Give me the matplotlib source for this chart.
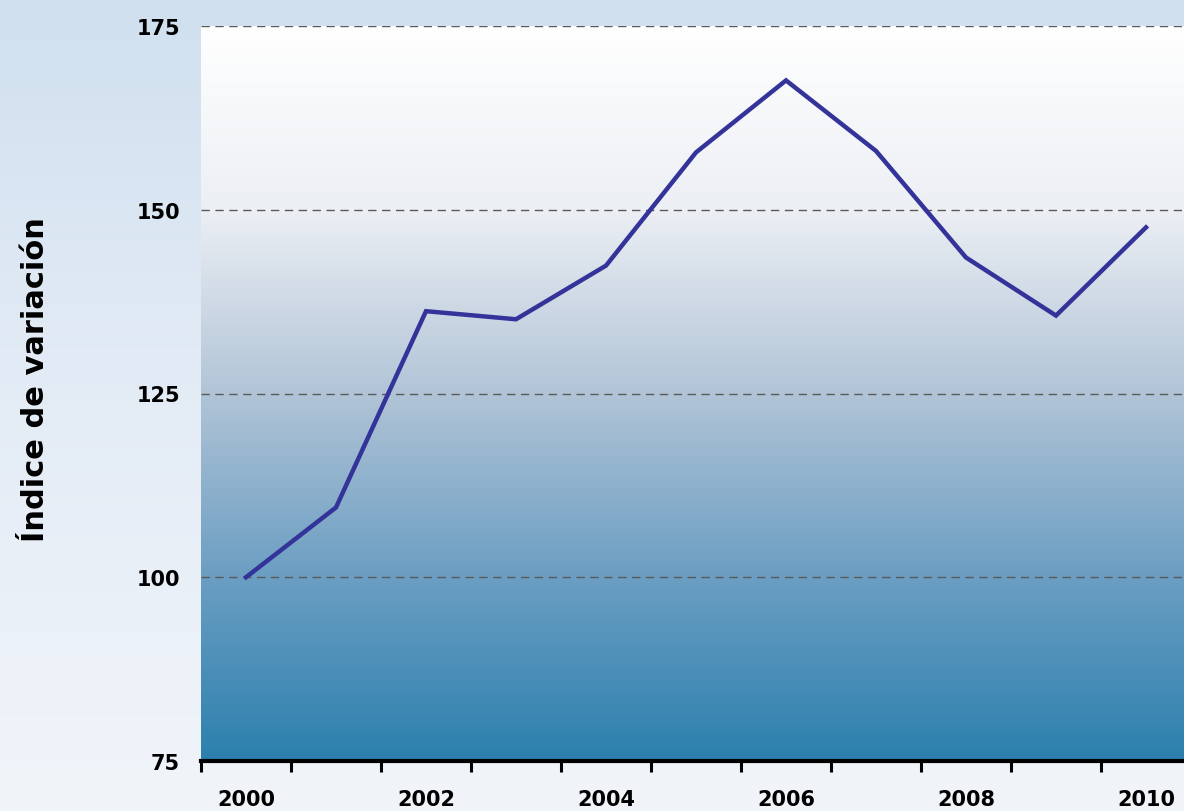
import numpy as np
import matplotlib.pyplot as plt
from matplotlib.colors import LinearSegmentedColormap

years = [2000, 2001, 2002, 2003, 2004, 2005, 2006, 2007, 2008, 2009, 2010]
indice = [100.0, 109.5, 136.2, 135.1, 142.4, 157.8, 167.6, 158.0, 143.5, 135.6, 147.6]
y_ticks = [75, 100, 125, 150, 175]

plt.rcParams['font.family'] = ['DejaVu Sans']
plt.rcParams['font.weight'] = 'bold'

fig = plt.figure(figsize=(11.84, 8.12), dpi=100)

# page background: pale blue at the top fading to near white
bg = fig.add_axes([0, 0, 1, 1], zorder=-10)
bg_cmap = LinearSegmentedColormap.from_list('page', ['#f1f5fa', '#e4ecf6', '#d0e0ef'])
bg.imshow(np.linspace(0, 1, 256).reshape(-1, 1), cmap=bg_cmap, aspect='auto',
          origin='lower', extent=[0, 1, 0, 1])
bg.set_axis_off()

ax = fig.add_axes([201 / 1184, 50 / 812, 990 / 1184, 735 / 812])
ax.patch.set_alpha(0)

# plot area gradient: steel blue at the bottom up to white at the top
plot_cmap = LinearSegmentedColormap.from_list(
    'area', [(0.0, '#2c80ae'), (0.25, '#6b9ec2'), (0.5, '#b1c4d7'),
             (0.75, '#eceff4'), (1.0, '#ffffff')])
ax.imshow(np.linspace(0, 1, 256).reshape(-1, 1), cmap=plot_cmap, aspect='auto',
          origin='lower', extent=[-0.5, len(years) - 0.5, 75, 175], zorder=0)

x = np.arange(len(years))
ax.plot(x, indice, color='#333399', linewidth=3.2, solid_joinstyle='miter', zorder=3)

ax.set_xlim(-0.5, len(years) - 0.5)
ax.set_ylim(75, 175)

ax.set_yticks(y_ticks)
ax.set_yticklabels([str(v) for v in y_ticks], fontsize=15, fontweight='bold')
ax.tick_params(axis='y', length=0, pad=15)
for v in y_ticks[1:]:
    ax.axhline(v, color='#5a5a5a', linewidth=1.0, linestyle=(0, (6, 4)), zorder=2)

ax.set_xticks(x[::2])
ax.set_xticklabels([str(y) for y in years[::2]], fontsize=15, fontweight='bold')
ax.set_xticks(np.arange(-0.5, len(years), 1.0), minor=True)
ax.tick_params(axis='x', which='major', length=0, pad=20)
ax.tick_params(axis='x', which='minor', length=8, width=2.2, color='black')

for side in ['left', 'right', 'top']:
    ax.spines[side].set_visible(False)
ax.spines['bottom'].set_linewidth(3)

fig.text(0.03, 0.533, 'Índice de variación', rotation=90, fontsize=22,
         fontweight='bold', ha='center', va='center')

fig.savefig('out.png', dpi=100)
